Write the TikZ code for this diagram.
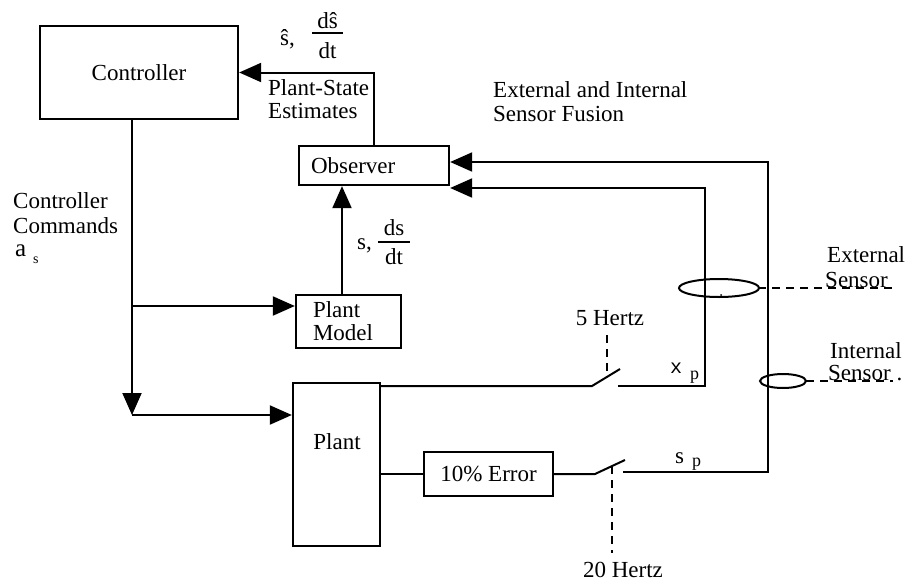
\documentclass[tikz,border=0pt]{standalone}
\usepackage{fontspec}
\setmainfont{Liberation Serif}
\newfontfamily\monofam{Liberation Mono}
\usetikzlibrary{arrows.meta,calc}
\begin{document}
\begin{tikzpicture}[x=1pt,y=-1pt,
  font=\fontsize{23}{25}\selectfont,
  box/.style={draw, line width=2.3pt, inner sep=0pt},
  wire/.style={line width=2pt},
  arr/.style={wire, -{Triangle[length=22pt,width=19pt]}},
  sensorline/.style={line width=2pt, dash pattern=on 8pt off 6pt},
  txt/.style={inner sep=0pt, anchor=base west},
  ctxt/.style={inner sep=0pt, anchor=base}]
\useasboundingbox (0,0) rectangle (907,581);

% boxes
\node[box, minimum width=198pt, minimum height=93pt] (ctrl) at (139,72.5) {Controller};
\node[box, minimum width=150pt, minimum height=39pt, text width=126pt, inner xsep=12pt, align=left] (obs) at (374,165.5) {Observer};
\node[box, minimum width=105pt, minimum height=53pt, text width=71pt, inner xsep=17pt, align=left, font=\fontsize{23}{23}\selectfont] (pm) at (348.5,321.5) {Plant\\Model};
\node[box, minimum width=87pt, minimum height=163pt] (plant) at (336.5,464.5) {};
\node[ctxt] (plantlbl) at (337,449) {Plant};
\node[box, minimum width=129pt, minimum height=44pt] (err) at (488.5,474) {10\% Error};

% coordinates
\coordinate (jpm) at (132,306);
\coordinate (jpl) at (132,415);
\coordinate (pmx) at (342,0);
\coordinate (swA1) at (592,386);
\coordinate (swA2) at (620,369);
\coordinate (swA3) at (618,386);
\coordinate (xpc) at (705,386);
\coordinate (swB1) at (595,474);
\coordinate (swB2) at (625,460);
\coordinate (swB3) at (623,472);
\coordinate (spc) at (768,472);
\coordinate (d5a) at (607,335);
\coordinate (d5b) at (607,377);
\coordinate (d20a) at (612,466);
\coordinate (d20b) at (612,553);
\coordinate (extL) at (758,288);
\coordinate (extR) at (897,288);
\coordinate (intL) at (806,381);
\coordinate (intR) at (893,381);

% connectors
\draw[arr] (obs.north) |- (ctrl.east);
\draw[arr] (ctrl.south -| jpm) -- (jpl);
\draw[arr] (jpl) -- (jpl -| plant.west);
\draw[arr] (jpm) -- (jpm -| pm.west);
\draw[arr] (pm.north -| pmx) -- (obs.south -| pmx);

\draw[wire] (plant.east |- swA1) -- (swA1) -- (swA2);
\draw[arr] (swA3) -- (xpc) |- ($(obs.east)+(0,22.5)$);

\draw[wire] (err.west -| plant.east) -- (err.west);
\draw[wire] (err.east) -- (swB1) -- (swB2);
\draw[arr] (swB3) -- (spc) |- ($(obs.east)+(0,-3.5)$);

\draw[sensorline] (d5a) -- (d5b);
\draw[sensorline] (d20a) -- (d20b);

% sensors
\draw[wire] (719,288) ellipse [x radius=40pt, y radius=9pt];
\fill (721,295) circle [radius=1pt];
\draw[sensorline] (extL) -- (extR);
\draw[wire] (783,381) ellipse [x radius=23pt, y radius=7pt];
\draw[sensorline] (intL) -- (intR);

% labels
\node[txt] (shat) at (280,45) {\^{s},};
\node[ctxt] (shatnum) at (327.5,28) {d\^{s}};
\node[ctxt] (shatden) at (327.5,58) {dt};
\draw[line width=1.8pt] (312,33) -- (343,33);

\node[txt] (sl) at (357,249) {s,};
\node[ctxt] (snum) at (394,235) {ds};
\node[ctxt] (sden) at (394,264) {dt};
\draw[line width=1.8pt] (378,242) -- (410,242);

\node[txt] (pse1) at (268,95) {Plant-State};
\node[txt] (pse2) at (268,118) {Estimates};
\node[txt] (fus1) at (493,97) {External and Internal};
\node[txt] (fus2) at (493,121) {Sensor Fusion};
\node[txt] (cc1) at (13,208) {Controller};
\node[txt] (cc2) at (13,233) {Commands};
\node[txt, font=\fontsize{25}{25}\selectfont] (cc3) at (15,256) {a};
\node[txt, font=\fontsize{14}{16}\selectfont] (cc4) at (33,263) {s};
\node[txt] (ext1) at (827,262) {External};
\node[txt] (ext2) at (825,287) {Sensor};
\node[txt] (int1) at (830,358) {Internal};
\node[txt] (int2) at (828,380) {Sensor .};
\node[ctxt] (hz5) at (610,325) {5 Hertz};
\node[ctxt] (hz20) at (623,577) {20 Hertz};
\node[txt, font=\fontsize{20}{22}\monofam] (xp1) at (670,373) {x};
\node[txt, font=\fontsize{18}{20}\selectfont] (xp2) at (690,379) {p};
\node[txt] (sp1) at (675,463) {s};
\node[txt, font=\fontsize{18}{20}\selectfont] (sp2) at (692,466) {p};
\end{tikzpicture}
\end{document}
